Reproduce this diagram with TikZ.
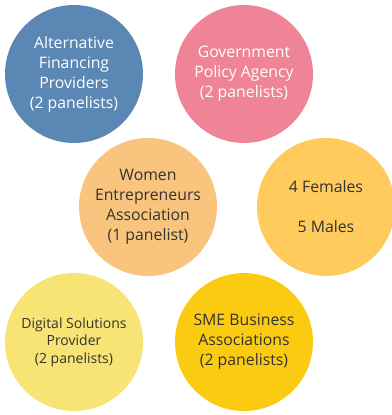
\documentclass[tikz,border=0pt]{standalone}
\usepackage{fontspec}
\setmainfont{Open Sans}
\definecolor{cblue}{HTML}{5B87B5}
\definecolor{cpink}{HTML}{EE8496}
\definecolor{corange}{HTML}{F8C47E}
\definecolor{cyorange}{HTML}{FECB5C}
\definecolor{clyellow}{HTML}{F7E474}
\definecolor{cgold}{HTML}{FBCB12}
\definecolor{ctext}{HTML}{333333}
\tikzset{
  bubble/.style={circle, minimum size=138bp, inner sep=0pt, align=center, text=ctext,
    font=\fontsize{15.8bp}{20bp}\selectfont},
  small/.style={font=\fontsize{14bp}{17.5bp}\selectfont},
}
\begin{document}
\begin{tikzpicture}[x=1bp,y=-1bp]
\useasboundingbox (0,0) rectangle (392,415);
\node[bubble, fill=cblue, text=white] (alt) at (74,74) {Alternative\\Financing\\Providers\\(2 panelists)};
\node[bubble, fill=cpink, text=white] (gov) at (244,74) {Government\\Policy Agency\\(2 panelists)};
\node[bubble, fill=corange] (wom) at (148,207) {Women\\Entrepreneurs\\Association\\(1 panelist)};
\node[bubble, fill=cyorange] (gen) at (326,207) {4 Females\\[20bp]5 Males};
\node[bubble, small, fill=clyellow] (dig) at (74,342) {Digital Solutions\\Provider\\(2 panelists)};
\node[bubble, fill=cgold] (sme) at (244,342) {SME Business\\Associations\\(2 panelists)};
\end{tikzpicture}
\end{document}
